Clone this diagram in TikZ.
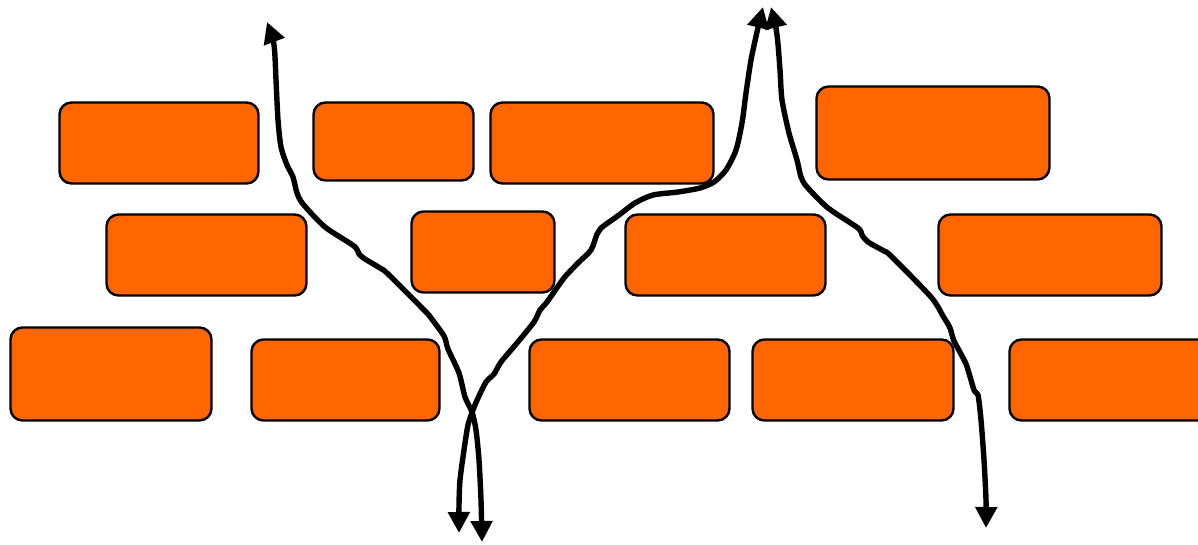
\documentclass[tikz,border=0pt]{standalone}
\usetikzlibrary{arrows.meta}
\definecolor{brickorange}{HTML}{FF6600}
\tikzset{
  brick/.style={draw=black, fill=brickorange, line width=2.4pt, rounded corners=12pt, inner sep=0pt, outer sep=0pt},
  crack/.style={line width=5.4pt, line cap=round, line join=round,
    {Triangle[length=21pt,width=21pt]}-{Triangle[length=21pt,width=21pt]}}
}
\begin{document}
\begin{tikzpicture}[x=1pt,y=-1pt]
\clip (0,0) rectangle (1198,544);
\fill[white] (0,0) rectangle (1198,544);
% row 1
\node[brick, minimum width=199pt, minimum height=81pt] (b1) at (159,143) {};
\node[brick, minimum width=160pt, minimum height=78pt] (b2) at (393.5,141.5) {};
\node[brick, minimum width=223pt, minimum height=81pt] (b3) at (602,143) {};
\node[brick, minimum width=233pt, minimum height=93pt] (b4) at (933,133) {};
% row 2
\node[brick, minimum width=200pt, minimum height=81pt] (b5) at (206.5,255) {};
\node[brick, minimum width=143pt, minimum height=81pt] (b6) at (483,252) {};
\node[brick, minimum width=200pt, minimum height=81pt] (b7) at (725.5,255) {};
\node[brick, minimum width=223pt, minimum height=81pt] (b8) at (1050,255) {};
% row 3
\node[brick, minimum width=201pt, minimum height=93pt] (b9) at (111,374) {};
\node[brick, minimum width=188pt, minimum height=81pt] (b10) at (345.5,380) {};
\node[brick, minimum width=200pt, minimum height=81pt] (b11) at (629.5,380) {};
\node[brick, minimum width=201pt, minimum height=81pt] (b12) at (853,380) {};
\node[brick, minimum width=220pt, minimum height=81pt] (b13) at (1119.5,380) {};
% end points of the cracks
\coordinate (c1top) at (267,22);
\coordinate (c1bot) at (482,542);
\coordinate (c2bot) at (459,533);
\coordinate (c2top) at (763,7);
\coordinate (c3top) at (771,7);
\coordinate (c3bot) at (986,528);
% crack 1
\draw[crack] plot[smooth, tension=0.45] coordinates {(c1top) (274,45) (276,80) (278,120) (281,147) (287,165) (293,177) (297,193) (303,204) (325,227) (354,246) (359,254) (365,259) (380,268) (388,274) (425,311) (431,318) (444,336) (448,349) (459,373) (465,397) (472,412) (476,430) (479,460) (481,500) (c1bot)};
% crack 2
\draw[crack] plot[smooth, tension=0.45] coordinates {(c2bot) (459,505) (460,480) (464,450) (468,425) (473,410) (478,398) (486,382) (494,374) (501,362) (517,343) (534,322) (540,310) (547,302) (564,278) (578,263) (591,250) (597,234) (601,228) (619,215) (635,203) (653,195) (678,192) (700,188) (714,182) (726,170) (736,150) (742,123) (746,93) (751,60) (757,32) (c2top)};
% crack 3
\draw[crack] plot[smooth, tension=0.45] coordinates {(c3top) (777,35) (780,70) (782,100) (789,133) (797,160) (801,177) (807,187) (828,208) (858,228) (862,235) (868,242) (884,251) (891,256) (931,297) (943,316) (950,328) (954,341) (966,364) (974,390) (978,395) (981,420) (984,460) (986,500) (c3bot)};
\end{tikzpicture}
\end{document}
